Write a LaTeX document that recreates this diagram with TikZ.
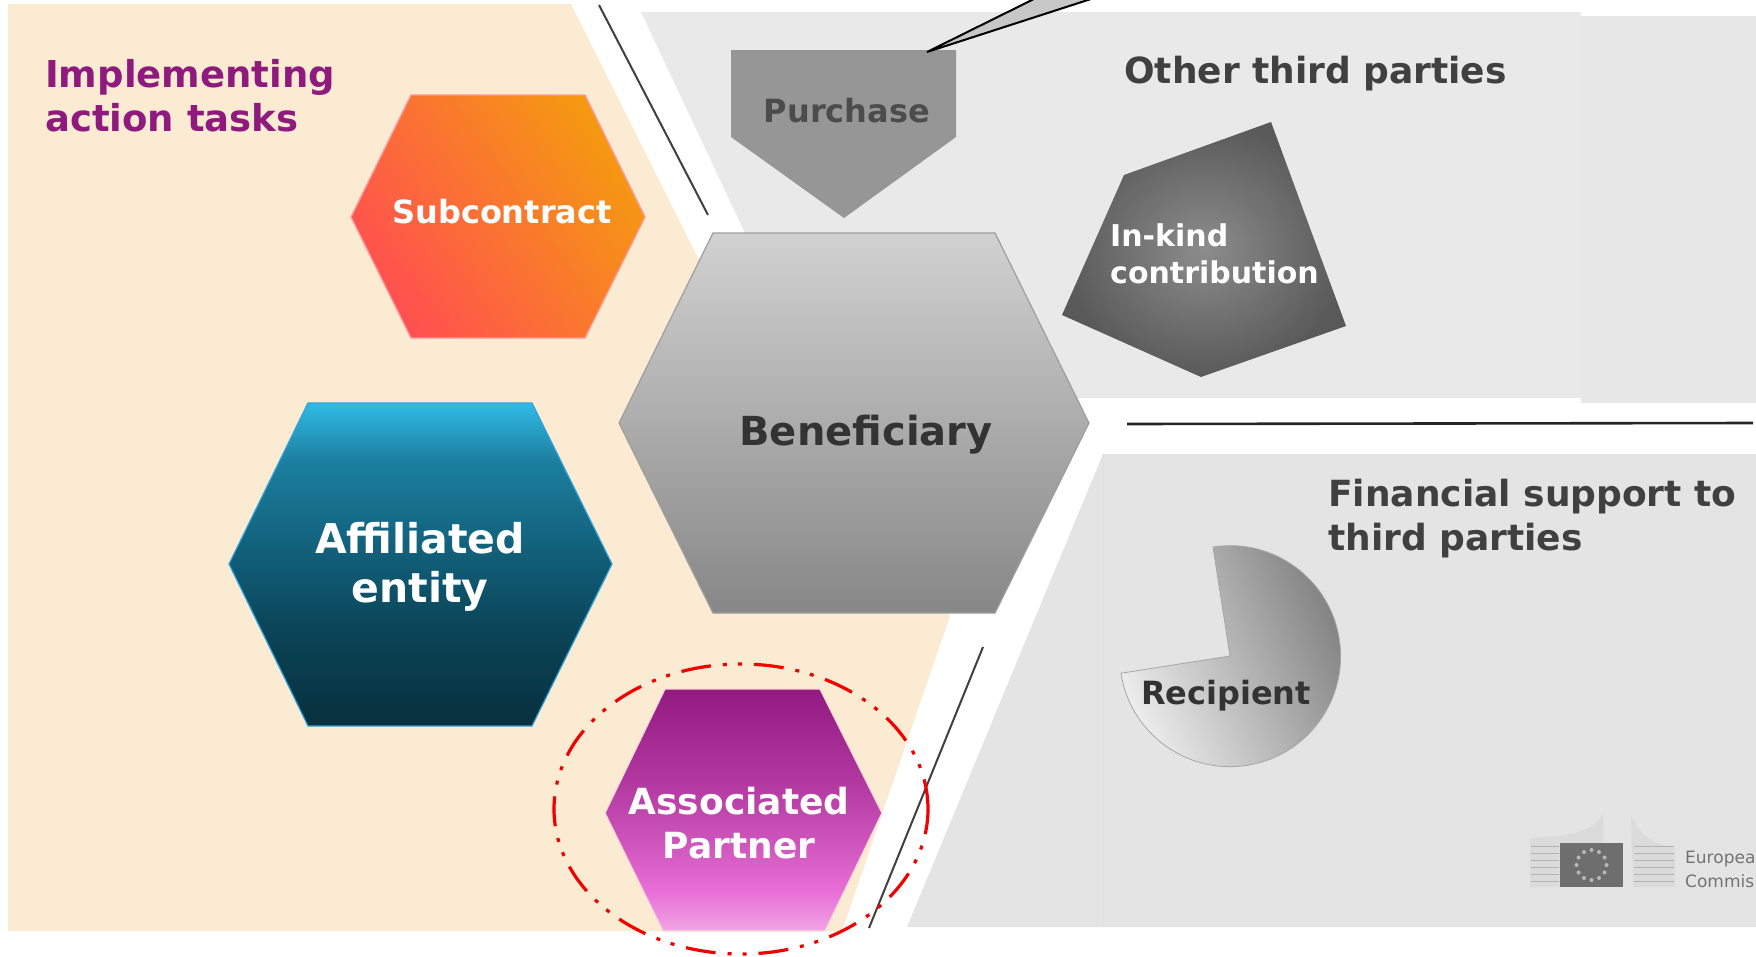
\documentclass[tikz,border=0pt]{standalone}
\usepackage{fontspec}
\setmainfont{DejaVu Sans}
\usetikzlibrary{shadings}
\definecolor{ptb}{HTML}{F0A6E4}\definecolor{pta}{HTML}{E870D8}\definecolor{ptc}{HTML}{D058BE}\definecolor{ptd}{HTML}{B0389E}\definecolor{pte}{HTML}{931A80}
\definecolor{blb}{HTML}{07303D}\definecolor{blc}{HTML}{0B4558}\definecolor{bld}{HTML}{105B74}\definecolor{ble}{HTML}{1C7F9F}\definecolor{blf}{HTML}{30BAE6}
\pgfdeclareverticalshading{assocgrad}{100bp}{color(0bp)=(ptb); color(25bp)=(ptb); color(33bp)=(pta); color(42bp)=(ptc); color(56bp)=(ptd); color(75bp)=(pte); color(100bp)=(pte)}
\pgfdeclareverticalshading{affilgrad}{100bp}{color(0bp)=(blb); color(25bp)=(blb); color(40bp)=(blc); color(50bp)=(bld); color(66bp)=(ble); color(75bp)=(blf); color(100bp)=(blf)}
\definecolor{beigebg}{HTML}{FCEBD3}
\definecolor{paneltop}{HTML}{E9E9E9}
\definecolor{panelside}{HTML}{E7E7E7}
\definecolor{panellow}{HTML}{E4E4E4}
\definecolor{headpurple}{HTML}{8E1A7E}
\definecolor{subred}{HTML}{FF5050}
\definecolor{submid}{HTML}{FD7230}
\definecolor{suborange}{HTML}{F59A10}
\newcommand{\fs}[2]{\fontsize{#1}{#2}\selectfont}
\tikzset{
  x=1pt,y=-1pt,
  lab/.style={inner sep=0pt,text=#1,align=center},
  labl/.style={inner sep=0pt,text=#1,align=left,anchor=west},
  fsz/.style 2 args={font=\bfseries\fs{#1}{#2}},
  sepline/.style={draw=black!75,line width=2pt},
  logoline/.style={draw=black!30,line width=0.9pt},
}
\begin{document}
\begin{tikzpicture}
\useasboundingbox (0,0) rectangle (1756,956);
\fill[white] (0,0) rectangle (1756,956);
% panels
\fill[beigebg] (8,4) -- (571,4) -- (700,262) -- (950,616) -- (842,931) -- (8,931) -- cycle;
\fill[paneltop] (641,12) -- (1581,12) -- (1581,398) -- (1000,398) -- (745,233) -- cycle;
\fill[panelside] (1581,16) -- (1756,16) -- (1756,403) -- (1581,403) -- cycle;
\fill[panellow] (1103,454) -- (1756,454) -- (1756,927) -- (907,927) -- cycle;
\draw[black!12,line width=0.7pt] (1103,454) -- (1103,927);
% separators
\coordinate (s1a) at (599,5); \coordinate (s1b) at (708,215);
\coordinate (s2a) at (1127,424); \coordinate (s2b) at (1753,423);
\coordinate (s3a) at (983,647); \coordinate (s3b) at (869,928);
\draw[sepline] (s1a) -- (s1b);
\draw[sepline,line width=2.6pt,draw=black!85] (s2a) -- (s2b);
\draw[sepline] (s3a) -- (s3b);
% hexagons
\shadedraw[draw=black!38,line width=1.2pt,top color=black!18,bottom color=black!47]
  (713,233) -- (995,233) -- (1089,423) -- (995,613) -- (713,613) -- (619,423) -- cycle;
\shadedraw[draw=pink!80!red,line width=1.4pt,left color=subred,middle color=submid,right color=suborange,shading angle=125]
  (411,95) -- (585,95) -- (645,217) -- (585,338) -- (411,338) -- (351,217) -- cycle;
\shadedraw[draw=cyan!35!blf,line width=1.2pt,shading=affilgrad]
  (308,403) -- (532,403) -- (612,564) -- (532,726) -- (308,726) -- (229,564) -- cycle;
\shadedraw[draw=pink!60!white,line width=1.2pt,shading=assocgrad]
  (665,689) -- (820,689) -- (882,813) -- (825,931) -- (663,931) -- (605,813) -- cycle;
% purchase
\fill[black!41] (731,50) -- (956,50) -- (956,137) -- (844,218) -- (731,137) -- cycle;
% callout
\path[fill=black!22,draw=black,line width=2pt,line join=miter] (1036,-2) -- (927,52) -- (1094,-2);
% in-kind
\shade[shading=radial,inner color=black!45,outer color=black!65]
  (1271,122) -- (1346,326) -- (1201,377) -- (1062,315) -- (1124,175) -- cycle;
% recipient
\shadedraw[draw=black!35,line width=0.8pt,left color=black!7,right color=black!50,shading angle=115]
  (1230,656) -- (1213,547) arc[start angle=98.9,end angle=-171.1,radius=110.5pt] -- cycle;
% ellipse
\draw[red!95!black,line width=3.2pt,dash pattern=on 30pt off 12pt on 4pt off 11pt on 4pt off 12pt]
  (741,809) ellipse [x radius=187pt,y radius=145pt];
% labels
\node[labl=headpurple,fsz={37}{44}] (impl) at (45,96) {Implementing\\action tasks};
\node[lab=white,fsz={32}{38}] (sub) at (502,212) {Subcontract};
\node[lab=black!80,fsz={40}{48}] (ben) at (866,435) {Beneficiary};
\node[lab=white,fsz={41}{49}] (aff) at (420,567) {Affiliated\\entity};
\node[lab=white!95!pink,fsz={36}{44}] (ass) at (739,823) {Associated\\Partner};
\node[lab=black!70,fsz={32}{38}] (pur) at (847,111) {Purchase};
\node[labl=black!75,fsz={36}{43}] (oth) at (1124,74) {Other third parties};
\node[labl=white,fsz={30}{37}] (ink) at (1110,254) {In-kind\\contribution};
\node[labl=black!75,fsz={36}{44}] (fin) at (1328,519) {Financial support to\\third parties};
\node[lab=black!80,fsz={32}{38}] (rec) at (1226,696) {Recipient};
% logo
\fill[black!14] (1530,838) -- (1560,836) .. controls (1585,832) and (1597,825) .. (1603,814) -- (1603,843) -- (1560,843) -- (1560,887) -- (1530,887) -- cycle;
\fill[black!14] (1631,815) .. controls (1640,835) and (1650,843) .. (1675,848) -- (1675,887) -- (1633,887) -- cycle;
\foreach \yy in {846,853,860,867,874,881} {
  \draw[logoline] (1531,\yy) -- (1559,\yy);
  \draw[logoline] (1634,\yy) -- (1674,\yy);
}
\fill[black!57] (1560,843) rectangle (1623,887);
\foreach \a in {0,30,...,330} \fill[black!28] (1591.5,865) ++(\a:15pt) circle (2pt);
\node[labl=black!55,font=\fs{17}{20}] (eur) at (1685,859) {Europea};
\node[labl=black!55,font=\fs{17}{20}] (com) at (1685,881) {Commis};
\end{tikzpicture}
\end{document}
